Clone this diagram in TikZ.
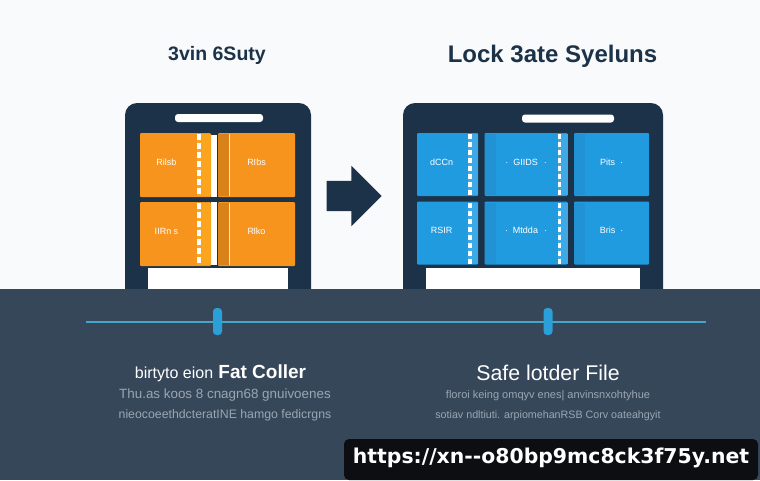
\documentclass[tikz,border=0pt]{standalone}
\usepackage{fontspec}
\setmainfont{Liberation Sans}
\newfontfamily\urlfont{DejaVu Sans}
\usetikzlibrary{shapes.arrows}
\definecolor{paper}{HTML}{F9FAFB}
\definecolor{navy}{HTML}{1B3249}
\definecolor{bandcol}{HTML}{37475A}
\definecolor{orangecol}{HTML}{F7941D}
\definecolor{orangelt}{HTML}{FBA51E}
\definecolor{bluecol}{HTML}{219BE0}
\definecolor{bluelt}{HTML}{3DA9E6}
\definecolor{linecol}{HTML}{46A5CC}
\definecolor{pillcol}{HTML}{2A9FD8}
\definecolor{subcol}{HTML}{9AA6B2}
\definecolor{urlcol}{HTML}{0C0E12}
\tikzset{
    box/.style={inner sep=0pt,outer sep=0pt,text=white,font=\fontsize{9}{9}\selectfont},
    phone/.style={box,fill=navy,rounded corners=12pt,anchor=north west},
    slot/.style={box,fill=white,rounded corners=3pt,minimum height=8pt},
    tray/.style={box,fill=white,anchor=south,minimum height=21pt},
    orangecard/.style={box,fill=orangecol,rounded corners=1pt,minimum height=64pt,text depth=6pt},
    bluecard/.style={box,fill=bluecol,rounded corners=1pt,minimum height=63pt,text depth=5pt},
    ostrip/.style={box,fill=orangelt,minimum height=62pt,minimum width=14pt},
    bstrip/.style={box,fill=bluelt,minimum height=61pt,minimum width=10pt},
    pill/.style={box,fill=pillcol,rounded corners=3.5pt,minimum width=9pt,minimum height=27pt},
    title/.style={box,text=navy,font=\fontsize{#1}{#1}\selectfont\bfseries},
    head/.style={box,text=white,font=\fontsize{#1}{#1}\selectfont},
    subtext/.style={box,text=subcol,font=\fontsize{#1}{#1}\selectfont},
}
\begin{document}
\begin{tikzpicture}[x=1pt,y=-1pt]
    \useasboundingbox (0,0) rectangle (760,480);
    \fill[fill=paper] (0,0) rectangle (760,480);

    % titles
    \node[title=19.5] at (217,55)(ltitle){3vin 6Suty};
    \node[title=24] at (552.5,56)(rtitle){Lock 3ate Syeluns};

    % left panel
    \node[phone,minimum width=186pt,minimum height=220pt] at (125,103)(lphone){};
    \node[slot,minimum width=88pt] at (219,118)(lslot){};
    \node[tray,minimum width=140pt] at (218,289)(ltray){};
    \node[box,fill=white,minimum width=6pt,minimum height=62pt] at (214,166)(lgapa){};
    \node[box,fill=white,minimum width=6pt,minimum height=63pt] at (214,233.5)(lgapb){};
    \node[orangecard,minimum width=71pt] at (175.5,165)(oa){Rilsb\hspace*{18pt}};
    \node[orangecard,minimum width=77pt] at (256.5,165)(ob){RIbs};
    \node[orangecard,minimum width=71pt] at (175.5,234)(oc){IIRn s\hspace*{18pt}};
    \node[orangecard,minimum width=77pt] at (256.5,234)(od){Rlko};
    \foreach \c in {oa,oc}{
        \node[ostrip] at ([xshift=-7pt]\c.east)(\c strip){};
        \draw[white,line width=4pt,dash pattern=on 6pt off 3pt] ([xshift=-5pt]\c strip.north) -- ([xshift=-5pt]\c strip.south);
    }
    \foreach \c in {ob,od}{
        \node[box,fill=orangecol!88!black,minimum width=11pt,minimum height=62pt] at ([xshift=5.5pt]\c.west)(\c strip){};
        \draw[white!80!orange,line width=1pt] (\c strip.north east) -- (\c strip.south east);
    }

    % arrow
    \node[box,single arrow,fill=navy,inner xsep=0pt,inner ysep=15pt,minimum height=55pt,
        single arrow head extend=15pt,single arrow tip angle=90] at (346.5,196)(arrow){};

    % right panel
    \node[phone,minimum width=260pt,minimum height=220pt] at (403,103)(rphone){};
    \node[slot,minimum width=92pt] at (568,118.5)(rslot){};
    \node[tray,minimum width=214pt] at (533,289)(rtray){};
    \node[bluecard,minimum width=61pt] at (447.5,164.5)(ba){dCCn\hspace*{12pt}};
    \node[bluecard,minimum width=83pt] at (526,164.5)(bb){·\hspace*{5pt}GIIDS\hspace*{6pt}·};
    \node[bluecard,minimum width=75pt] at (611.5,164.5)(bc){Pits\hspace*{5pt}·};
    \node[bluecard,minimum width=61pt] at (447.5,233)(bd){RSIR\hspace*{12pt}};
    \node[bluecard,minimum width=83pt] at (526,233)(be){·\hspace*{5pt}Mtdda\hspace*{6pt}·};
    \node[bluecard,minimum width=75pt] at (611.5,233)(bf){Bris\hspace*{5pt}·};
    \foreach \c in {ba,bb,bd,be}{
        \node[bstrip] at ([xshift=-5pt]\c.east)(\c strip){};
        \draw[white,line width=3.5pt,dash pattern=on 5pt off 3pt] ([xshift=-3pt]\c strip.north) -- ([xshift=-3pt]\c strip.south);
    }
    \foreach \c in {bb,bc,be,bf}{
        \node[bstrip,fill=bluecol!92!navy,minimum width=11pt] at ([xshift=5.5pt]\c.west)(\c lstrip){};
    }

    % band
    \fill[fill=bandcol] (0,289) rectangle (760,480);
    \coordinate (lineleft) at (86,322);
    \coordinate (lineright) at (706,322);
    \draw[linecol,line width=2pt] (lineleft) -- (lineright);
    \node[pill] at (217.5,321.5)(lpill){};
    \node[pill] at (548,321.5)(rpill){};

    % captions
    \node[head=19] at (220.5,373)(lhead){{\fontsize{16}{16}\selectfont birtyto eion} \textbf{Fat Coller}};
    \node[subtext=13.4] at (225,395.5)(lsuba){Thu.as koos  8 cnagn68 gnuivoenes};
    \node[subtext=12.3] at (225,415.5)(lsubb){nieocoeethdcteratINE  hamgo  fedicrgns};
    \node[head=21.3] at (548,373)(rhead){Safe lotder File};
    \node[subtext=11] at (548,395.5)(rsuba){floroi keing omqyv enes| anvinsnxohtyhue};
    \node[subtext=10.7] at (548,415.5)(rsubb){sotiav ndltiuti. arpiomehanRSB Corv oateahgyit};

    % url
    \node[box,fill=urlcol,rounded corners=5pt,minimum width=414pt,minimum height=41pt] at (551,459.5)(urlbar){};
    \node[box,font=\urlfont\fontsize{20.4}{20.4}\selectfont\bfseries] at (551,458)(urltext){https://xn--o80bp9mc8ck3f75y.net};
\end{tikzpicture}
\end{document}
